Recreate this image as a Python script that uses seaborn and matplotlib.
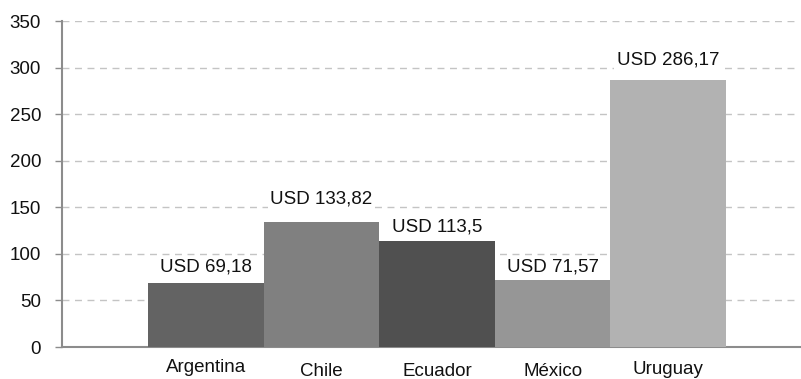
import matplotlib
matplotlib.use("Agg")
import matplotlib.pyplot as plt
import matplotlib.transforms as mtransforms
import seaborn as sns
import pandas as pd

countries = ["Argentina", "Chile", "Ecuador", "México", "Uruguay"]
values = [69.18, 133.82, 113.5, 71.57, 286.17]
value_labels = ["USD 69,18", "USD 133,82", "USD 113,5", "USD 71,57", "USD 286,17"]
bar_colors = ["#636363", "#808080", "#505050", "#969696", "#b2b2b2"]
y_ticks = [0, 50, 100, 150, 200, 250, 300, 350]

# layout tweaks (pixels): label baseline gap above each bar, category label lift
label_gaps = [11, 19, 10, 9, 16]
tick_lifts = [5, 1, 1, 1, 3]

sns.set_theme(style="white")
plt.rcParams["font.family"] = ["Liberation Sans", "DejaVu Sans"]

df = pd.DataFrame({"country": countries, "value": values})

fig = plt.figure(figsize=(8.01, 3.79), dpi=100)
ax = fig.add_axes([62 / 801, 1 - 347 / 379, (800 - 62) / 801, (347 - 21) / 379])

sns.barplot(data=df, x="country", y="value", hue="country", palette=bar_colors,
            width=1.0, legend=False, ax=ax, saturation=1, linewidth=0, zorder=3)

ax.set_xlim(-1.245, 5.14)
ax.set_ylim(0, 350)
ax.set_yticks(y_ticks)
ax.set_xlabel("")
ax.set_ylabel("")

ax.yaxis.grid(True, linestyle=(0, (5, 4)), color="#c4c4c4", linewidth=1.0, zorder=0)
ax.xaxis.grid(False)
ax.set_axisbelow(True)

for side in ["top", "right"]:
    ax.spines[side].set_visible(False)
for side in ["left", "bottom"]:
    ax.spines[side].set_color("#8c8c8c")
    ax.spines[side].set_linewidth(1.5)

ax.tick_params(axis="y", which="major", left=True, length=5, width=1, color="#8c8c8c",
               labelsize=13.5, pad=10, labelcolor="#111111")
ax.tick_params(axis="x", which="major", bottom=False, labelsize=13.5, pad=6, labelcolor="#111111")

for lab, s in zip(ax.get_xticklabels(), tick_lifts):
    lab.set_transform(lab.get_transform() +
                      mtransforms.ScaledTranslation(0, s / 100, fig.dpi_scale_trans))

for bar, txt, gap in zip(ax.patches, value_labels, label_gaps):
    x = bar.get_x() + bar.get_width() / 2
    ax.annotate(txt, (x, bar.get_height()), xytext=(0, gap), textcoords="offset pixels",
                ha="center", va="baseline", fontsize=13.5, color="#111111", zorder=4,
                bbox=dict(boxstyle="square,pad=0.15", facecolor="white", edgecolor="none"))

fig.savefig("out.png", dpi=100)
